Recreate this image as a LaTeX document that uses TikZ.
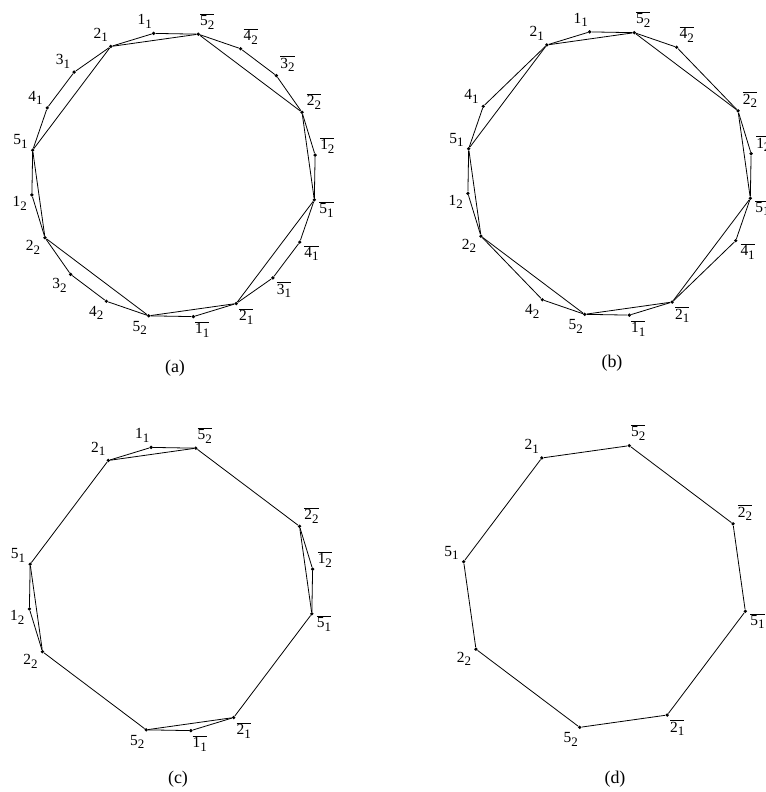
\documentclass[tikz,border=0pt]{standalone}
\usepackage{fontspec}
\setmainfont{Liberation Serif}

% vertex labels: digit with subscript, and the barred form
\newcommand{\vl}[2]{#1\raisebox{-3.6pt}{\fontsize{13}{13}\selectfont #2}}
\newcommand{\vb}[2]{$\overline{\hbox{\vl{#1}{#2}}}$}
% one vertex on the circle: name, angle, label
\newcommand{\vtx}[3]{\node[vertex_style, label={[label_style]#2:#3}] (#1) at (#2:143) {};}

\begin{document}
\begin{tikzpicture}[
      x=1bp, y=1bp,
      vertex_style/.style={fill, black, circle, inner sep=0pt, minimum size=3.6bp},
      edge_style/.style={draw, black, line width=0.8bp},
      label_style/.style={font=\fontsize{15.5}{17}\selectfont, inner sep=1bp, label distance=2bp},
      caption_style/.style={font=\fontsize{18}{20}\selectfont, inner sep=0pt}
  ]
      \path[use as bounding box, clip] (0,-792) rectangle (766,0);

      % (a) all twenty vertices
      \begin{scope}[shift={(173.5,-175)}, name prefix=a-]
        \vtx{n11}{98}{\vl11}   \vtx{b52}{80}{\vb52}   \vtx{b42}{62}{\vb42}   \vtx{b32}{44}{\vb32}
        \vtx{b22}{26}{\vb22}   \vtx{b12}{8}{\vb12}    \vtx{b51}{-10}{\vb51}  \vtx{b41}{-28}{\vb41}
        \vtx{b31}{-46}{\vb31}  \vtx{b21}{-64}{\vb21}  \vtx{b11}{-82}{\vb11}  \vtx{n52}{-100}{\vl52}
        \vtx{n42}{-118}{\vl42} \vtx{n32}{-136}{\vl32} \vtx{n22}{-154}{\vl22} \vtx{n12}{-172}{\vl12}
        \vtx{n51}{170}{\vl51}  \vtx{n41}{152}{\vl41}  \vtx{n31}{134}{\vl31}  \vtx{n21}{116}{\vl21}
        \draw[edge_style] (n21) -- (n11) -- (b52) -- (b42) -- (b32) -- (b22) -- (b12) -- (b51)
          -- (b41) -- (b31) -- (b21) -- (b11) -- (n52) -- (n42) -- (n32) -- (n22) -- (n12)
          -- (n51) -- (n41) -- (n31) -- (n21);
        \draw[edge_style] (n21) -- (b52) -- (b22) -- (b51) -- (b21) -- (n52) -- (n22) -- (n51) -- (n21);
        \node[caption_style] (cap) at (1.5,-193) {(a)};
      \end{scope}

      % (b) without the 3s
      \begin{scope}[shift={(609.5,-173.5)}, name prefix=b-]
        \vtx{n11}{98}{\vl11}   \vtx{b52}{80}{\vb52}   \vtx{b42}{62}{\vb42}   \vtx{b22}{26}{\vb22}
        \vtx{b12}{8}{\vb12}    \vtx{b51}{-10}{\vb51}  \vtx{b41}{-28}{\vb41}  \vtx{b21}{-64}{\vb21}
        \vtx{b11}{-82}{\vb11}  \vtx{n52}{-100}{\vl52} \vtx{n42}{-118}{\vl42} \vtx{n22}{-154}{\vl22}
        \vtx{n12}{-172}{\vl12} \vtx{n51}{170}{\vl51}  \vtx{n41}{152}{\vl41}  \vtx{n21}{116}{\vl21}
        \draw[edge_style] (n21) -- (n11) -- (b52) -- (b42) -- (b22) -- (b12) -- (b51) -- (b41)
          -- (b21) -- (b11) -- (n52) -- (n42) -- (n22) -- (n12) -- (n51) -- (n41) -- (n21);
        \draw[edge_style] (n21) -- (b52) -- (b22) -- (b51) -- (b21) -- (n52) -- (n22) -- (n51) -- (n21);
        \node[caption_style] (cap) at (2.5,-189.5) {(b)};
      \end{scope}

      % (c) without the 3s and 4s
      \begin{scope}[shift={(171,-589)}, name prefix=c-]
        \vtx{n11}{98}{\vl11}   \vtx{b52}{80}{\vb52}   \vtx{b22}{26}{\vb22}   \vtx{b12}{8}{\vb12}
        \vtx{b51}{-10}{\vb51}  \vtx{b21}{-64}{\vb21}  \vtx{b11}{-82}{\vb11}  \vtx{n52}{-100}{\vl52}
        \vtx{n22}{-154}{\vl22} \vtx{n12}{-172}{\vl12} \vtx{n51}{170}{\vl51}  \vtx{n21}{116}{\vl21}
        \draw[edge_style] (n21) -- (n11) -- (b52) -- (b22) -- (b12) -- (b51) -- (b21) -- (b11)
          -- (n52) -- (n22) -- (n12) -- (n51) -- (n21);
        \draw[edge_style] (n21) -- (b52);
        \draw[edge_style] (b22) -- (b51);
        \draw[edge_style] (b21) -- (n52);
        \draw[edge_style] (n22) -- (n51);
        \node[caption_style] (cap) at (7,-190) {(c)};
      \end{scope}

      % (d) only the 2s and 5s
      \begin{scope}[shift={(604.5,-586.5)}, name prefix=d-]
        \vtx{b52}{80}{\vb52}   \vtx{b22}{26}{\vb22}   \vtx{b51}{-10}{\vb51}  \vtx{b21}{-64}{\vb21}
        \vtx{n52}{-100}{\vl52} \vtx{n22}{-154}{\vl22} \vtx{n51}{170}{\vl51}  \vtx{n21}{116}{\vl21}
        \draw[edge_style] (n21) -- (b52) -- (b22) -- (b51) -- (b21) -- (n52) -- (n22) -- (n51) -- (n21);
        \node[caption_style] (cap) at (10.5,-192.5) {(d)};
      \end{scope}
  \end{tikzpicture}
\end{document}
